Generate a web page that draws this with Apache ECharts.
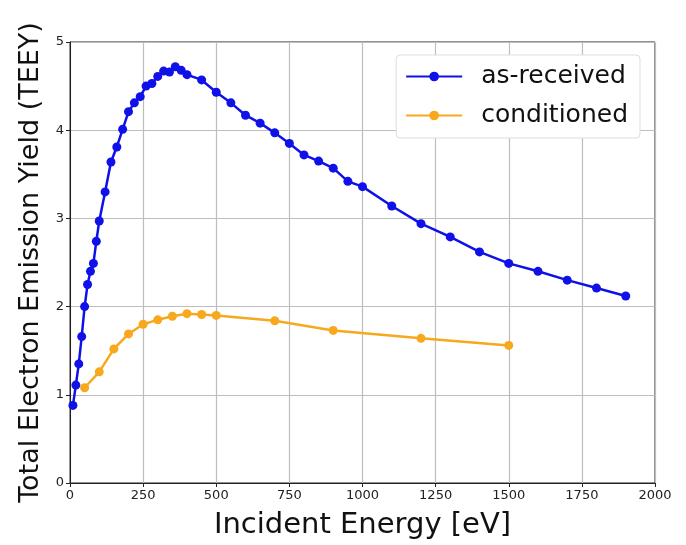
<!DOCTYPE html>
<html>
<head>
<meta charset="utf-8">
<script src="https://cdn.jsdelivr.net/npm/echarts@6/dist/echarts.min.js"></script>
<style>
  html, body { margin: 0; padding: 0; background: #fff; }
  #chart { width: 686px; height: 545px; }
</style>
</head>
<body>
<div id="chart"></div>
<script>
// incident energy [eV] and TEEY values
const asReceivedEnergy = [10, 20, 30, 40, 50, 60, 70, 80, 90, 100,
  120, 140, 160, 180, 200, 220, 240, 260, 280, 300, 320, 340, 360, 380, 400,
  450, 500, 550, 600, 650, 700, 750, 800, 850, 900, 950, 1000,
  1100, 1200, 1300, 1400, 1500, 1600, 1700, 1800, 1900];
const asReceivedYield = [0.88, 1.11, 1.35, 1.66, 2.00, 2.25, 2.40, 2.49, 2.74, 2.97,
  3.30, 3.64, 3.81, 4.01, 4.21, 4.31, 4.38, 4.50, 4.53, 4.61, 4.67, 4.66, 4.72, 4.68, 4.63,
  4.57, 4.43, 4.31, 4.17, 4.08, 3.97, 3.85, 3.72, 3.65, 3.57, 3.42, 3.36,
  3.14, 2.94, 2.79, 2.62, 2.49, 2.40, 2.30, 2.21, 2.12];

const conditionedEnergy = [50, 100, 150, 200, 250, 300, 350, 400, 450, 500, 700, 900, 1200, 1500];
const conditionedYield = [1.08, 1.26, 1.52, 1.69, 1.80, 1.85, 1.89, 1.92, 1.91, 1.90, 1.84, 1.73, 1.64, 1.56];

const xTicks = [0, 250, 500, 750, 1000, 1250, 1500, 1750, 2000];
const yTicks = [0, 1, 2, 3, 4, 5];

const pairs = (xs, ys) => xs.map((x, i) => [x, ys[i]]);

const chart = echarts.init(document.getElementById('chart'));
const font = 'DejaVu Sans';

chart.setOption({
  animation: false,
  textStyle: { fontFamily: font },
  grid: {
    left: 70, right: 31, top: 42, bottom: 60,
    show: true, borderColor: '#222', borderWidth: 1
  },
  legend: {
    right: 46, top: 55,
    orient: 'vertical',
    backgroundColor: '#fff',
    borderColor: '#ddd', borderWidth: 1, borderRadius: 4,
    padding: [9, 12, 10, 9],
    itemWidth: 56, itemHeight: 12, itemGap: 14,
    textStyle: { fontSize: 25, color: '#111', fontFamily: font, padding: [0, 0, 0, 14] }
  },
  xAxis: {
    type: 'value',
    min: xTicks[0], max: xTicks[xTicks.length - 1], interval: 250,
    name: 'Incident Energy [eV]',
    nameLocation: 'middle', nameGap: 28,
    nameTextStyle: { fontSize: 29, color: '#111', fontFamily: font },
    axisLine: { show: true, lineStyle: { color: '#222', width: 1 } },
    axisTick: { show: true, length: 4, lineStyle: { color: '#222' } },
    axisLabel: { fontSize: 13, color: '#222', margin: 6, formatter: v => String(v) },
    splitLine: { show: true, lineStyle: { color: '#bdbdbd', width: 1.2 } }
  },
  yAxis: {
    type: 'value',
    min: yTicks[0], max: yTicks[yTicks.length - 1], interval: 1,
    name: 'Total Electron Emission Yield (TEEY)',
    nameLocation: 'middle', nameGap: 25,
    nameTextStyle: { fontSize: 27, color: '#111', fontFamily: font },
    axisLine: { show: true, lineStyle: { color: '#222', width: 1 } },
    axisTick: { show: true, length: 4, lineStyle: { color: '#222' } },
    axisLabel: { fontSize: 13, color: '#222', margin: 6 },
    splitLine: { show: true, lineStyle: { color: '#bdbdbd', width: 1.2 } }
  },
  series: [
    {
      name: 'as-received',
      type: 'line',
      data: pairs(asReceivedEnergy, asReceivedYield),
      color: '#1010e8',
      symbol: 'circle', symbolSize: 9,
      lineStyle: { width: 2.5 },
      z: 3
    },
    {
      name: 'conditioned',
      type: 'line',
      data: pairs(conditionedEnergy, conditionedYield),
      color: '#f8a81c',
      symbol: 'circle', symbolSize: 9,
      lineStyle: { width: 2.5 },
      z: 2
    }
  ]
});
</script>
</body>
</html>
